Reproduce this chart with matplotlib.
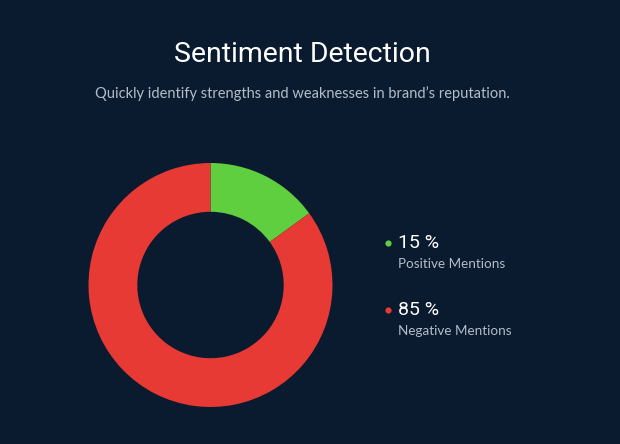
import matplotlib
matplotlib.use("Agg")
import matplotlib.pyplot as plt

labels = ["Positive Mentions", "Negative Mentions"]
values = [15, 85]
colors = ["#5fcf40", "#e83a35"]
title = "Sentiment Detection"
subtitle = "Quickly identify strengths and weaknesses in brand\u2019s reputation."

bg = "#0a1a2f"
fig = plt.figure(figsize=(6.2, 4.44), dpi=100, facecolor=bg)
W, H = 620, 444

ax = fig.add_axes([88 / W, (H - 407) / H, 245 / W, 244 / H])
ax.set_facecolor(bg)
ax.pie(values, colors=colors, startangle=90, counterclock=False, radius=1,
       wedgeprops=dict(width=0.4, linewidth=0))
ax.set_xlim(-1, 1)
ax.set_ylim(-1, 1)
ax.axis("off")

ov = fig.add_axes([0, 0, 1, 1], facecolor="none")
ov.set_xlim(0, W)
ov.set_ylim(H, 0)
ov.axis("off")

ov.text(302, 55, title, ha="center", va="center",
        fontsize=20.5, color="white", family="Roboto")
ov.text(302, 94, subtitle, ha="center", va="center",
        fontsize=10.5, color="#b4bdc8", family="Lato")

ys = [243, 310]
for lab, v, c, y in zip(labels, values, colors, ys):
    ov.scatter([388], [y], s=20, color=c, linewidths=0)
    ov.text(398, y, f"{v} %", ha="left", va="center",
            fontsize=14, color="white", family="Roboto")
    ov.text(398, y + 21, lab, ha="left", va="center",
            fontsize=9.7, color="#b4bdc8", family="Lato")

fig.savefig("out.png", dpi=100, facecolor=bg)
